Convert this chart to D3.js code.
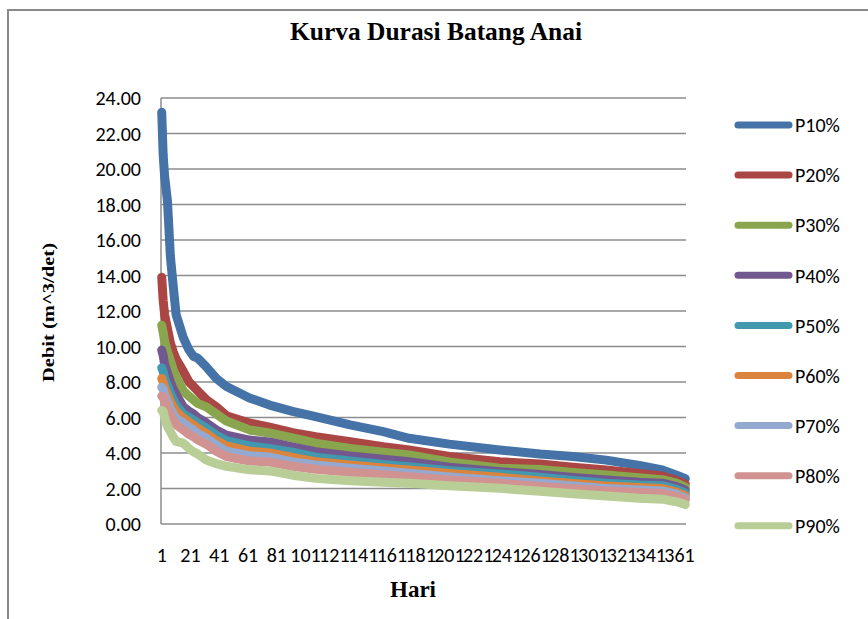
<!DOCTYPE html>
<html>
<head>
<meta charset="utf-8">
<script src="https://cdn.jsdelivr.net/npm/d3@7"></script>
<style>
  body { margin: 0; background: #fff; }
  svg { display: block; }
</style>
</head>
<body>
<svg id="chart" width="868" height="619"></svg>
<script>
var days = [1, 2, 3, 5, 7, 9, 11, 16, 20, 23, 26, 32, 39, 46, 62, 76, 92, 108, 132, 155, 173, 201, 236, 264, 287, 310, 333, 349, 359, 365];

var p10 = [23.2, 20.8, 19.6, 18.2, 15.1, 13.4, 11.8, 10.5, 9.8, 9.45, 9.35, 8.85, 8.2, 7.75, 7.1, 6.7, 6.35, 6.05, 5.58, 5.2, 4.83, 4.5, 4.17, 3.94, 3.8, 3.6, 3.3, 3.05, 2.75, 2.55];
var p20 = [13.9, 12.6, 11.8, 11.0, 10.2, 9.7, 9.3, 8.6, 8.0, 7.75, 7.5, 7.0, 6.6, 6.1, 5.69, 5.46, 5.15, 4.92, 4.64, 4.35, 4.17, 3.8, 3.51, 3.38, 3.2, 3.04, 2.85, 2.7, 2.45, 2.25];
var p30 = [11.2, 10.8, 10.3, 9.7, 9.2, 8.7, 8.3, 7.5, 7.2, 7.0, 6.8, 6.6, 6.2, 5.8, 5.3, 5.13, 4.85, 4.55, 4.26, 4.05, 3.89, 3.5, 3.14, 3.07, 2.9, 2.76, 2.6, 2.5, 2.3, 2.08];
var p40 = [9.8, 9.5, 9.0, 8.5, 8.0, 7.6, 7.3, 6.6, 6.35, 6.2, 6.0, 5.7, 5.3, 5.0, 4.73, 4.62, 4.35, 4.07, 3.83, 3.65, 3.51, 3.2, 2.95, 2.79, 2.62, 2.48, 2.35, 2.3, 2.1, 1.9];
var p50 = [8.8, 8.6, 8.2, 7.8, 7.4, 7.0, 6.7, 6.2, 6.0, 5.86, 5.7, 5.4, 5.0, 4.7, 4.4, 4.25, 4.05, 3.76, 3.55, 3.35, 3.23, 3.0, 2.82, 2.63, 2.45, 2.3, 2.2, 2.16, 1.95, 1.75];
var p60 = [8.2, 8.0, 7.7, 7.3, 6.9, 6.6, 6.35, 5.97, 5.75, 5.58, 5.4, 5.1, 4.7, 4.4, 4.1, 4.0, 3.75, 3.51, 3.32, 3.15, 3.04, 2.85, 2.63, 2.42, 2.28, 2.14, 2.05, 2.0, 1.8, 1.6];
var p70 = [7.7, 7.6, 7.3, 6.9, 6.5, 6.2, 5.95, 5.7, 5.45, 5.3, 5.1, 4.83, 4.45, 4.1, 3.85, 3.77, 3.5, 3.32, 3.14, 2.98, 2.86, 2.65, 2.44, 2.29, 2.14, 2.0, 1.92, 1.86, 1.68, 1.46];
var p80 = [7.2, 7.15, 6.9, 6.5, 6.2, 5.85, 5.6, 5.3, 5.05, 4.92, 4.75, 4.5, 4.1, 3.8, 3.55, 3.49, 3.25, 3.08, 2.91, 2.78, 2.66, 2.48, 2.29, 2.11, 1.98, 1.86, 1.78, 1.72, 1.55, 1.35];
var p90 = [6.4, 6.35, 6.0, 5.5, 5.2, 4.9, 4.65, 4.55, 4.25, 4.07, 3.95, 3.6, 3.4, 3.25, 3.05, 2.99, 2.75, 2.57, 2.44, 2.35, 2.29, 2.15, 2.01, 1.85, 1.7, 1.58, 1.45, 1.4, 1.25, 1.1];

var seriesNames = ["P10%", "P20%", "P30%", "P40%", "P50%", "P60%", "P70%", "P80%", "P90%"];
var seriesValues = [p10, p20, p30, p40, p50, p60, p70, p80, p90];
var colors = ["#4572A7", "#AA4643", "#89A54E", "#71588F", "#4198AF", "#DB843D", "#93A9CF", "#D19392", "#B9CD96"];

var yTicks = [0, 2, 4, 6, 8, 10, 12, 14, 16, 18, 20, 22, 24];
var xTicks = d3.range(1, 366, 20);   // 1, 21, ... 361

var svg = d3.select("#chart");
var labelFont = "Carlito, Calibri, Lato, sans-serif";
var serif = "'Liberation Serif', 'Times New Roman', serif";

// outer chart frame (runs off the right/bottom edge)
svg.append("rect")
    .attr("x", 8).attr("y", 10)
    .attr("width", 900).attr("height", 640)
    .attr("fill", "none")
    .attr("stroke", "#8a8a8a")
    .attr("stroke-width", 2);

var plotL = 161, plotR = 686, plotT = 98, plotB = 524;

var x = d3.scaleLinear().domain([0.5, 365.5]).range([plotL, plotR]);
var y = d3.scaleLinear().domain([0, 24]).range([plotB, plotT]);

// gridlines
svg.append("g")
  .selectAll("line")
  .data(yTicks)
  .enter().append("line")
    .attr("x1", plotL).attr("x2", plotR)
    .attr("y1", function(d) { return y(d); })
    .attr("y2", function(d) { return y(d); })
    .attr("stroke", "#8c8c8c")
    .attr("stroke-width", 1.5);

// vertical axis line
svg.append("line")
    .attr("x1", plotL).attr("x2", plotL)
    .attr("y1", plotT).attr("y2", plotB)
    .attr("stroke", "#8c8c8c")
    .attr("stroke-width", 1.5);

// y tick labels
svg.append("g")
  .selectAll("text")
  .data(yTicks)
  .enter().append("text")
    .attr("x", 141)
    .attr("y", function(d) { return y(d); })
    .attr("dy", "0.36em")
    .attr("text-anchor", "end")
    .attr("font-family", labelFont)
    .attr("font-size", 20)
    .attr("fill", "#000")
    .text(function(d) { return d.toFixed(2); });

// x tick labels (crowded, they overlap like in the original)
svg.append("g")
  .selectAll("text")
  .data(xTicks)
  .enter().append("text")
    .attr("x", function(d) { return x(d); })
    .attr("y", 562)
    .attr("text-anchor", "middle")
    .attr("font-family", labelFont)
    .attr("font-size", 20)
    .attr("fill", "#000")
    .text(function(d) { return d; });

// lines
var line = d3.line()
    .x(function(d) { return x(d[0]); })
    .y(function(d) { return y(d[1]); });

svg.append("g")
  .selectAll("path")
  .data(seriesValues)
  .enter().append("path")
    .attr("d", function(vals) { return line(days.map(function(dd, i) { return [dd, vals[i]]; })); })
    .attr("fill", "none")
    .attr("stroke", function(d, i) { return colors[i]; })
    .attr("stroke-width", 9)
    .attr("stroke-linejoin", "round")
    .attr("stroke-linecap", "round");

// legend
var legend = svg.append("g")
  .selectAll("g")
  .data(seriesNames)
  .enter().append("g")
    .attr("transform", function(d, i) { return "translate(0," + (125 + i * 50.1) + ")"; });

legend.append("line")
    .attr("x1", 738).attr("x2", 789)
    .attr("stroke", function(d, i) { return colors[i]; })
    .attr("stroke-width", 7)
    .attr("stroke-linecap", "round");

legend.append("text")
    .attr("x", 795)
    .attr("dy", "0.36em")
    .attr("font-family", labelFont)
    .attr("font-size", 20)
    .text(function(d) { return d; });

// titles
svg.append("text")
    .attr("x", 290).attr("y", 40)
    .attr("font-family", serif)
    .attr("font-weight", "bold")
    .attr("font-size", 25)
    .attr("textLength", 292)
    .attr("lengthAdjust", "spacingAndGlyphs")
    .text("Kurva Durasi Batang Anai");

svg.append("text")
    .attr("x", 413).attr("y", 597)
    .attr("text-anchor", "middle")
    .attr("font-family", serif)
    .attr("font-weight", "bold")
    .attr("font-size", 23)
    .text("Hari");

svg.append("text")
    .attr("transform", "translate(54,382) rotate(-90)")
    .attr("font-family", serif)
    .attr("font-weight", "bold")
    .attr("font-size", 17)
    .attr("textLength", 139)
    .attr("lengthAdjust", "spacingAndGlyphs")
    .text("Debit (m^3/det)");
</script>
</body>
</html>
